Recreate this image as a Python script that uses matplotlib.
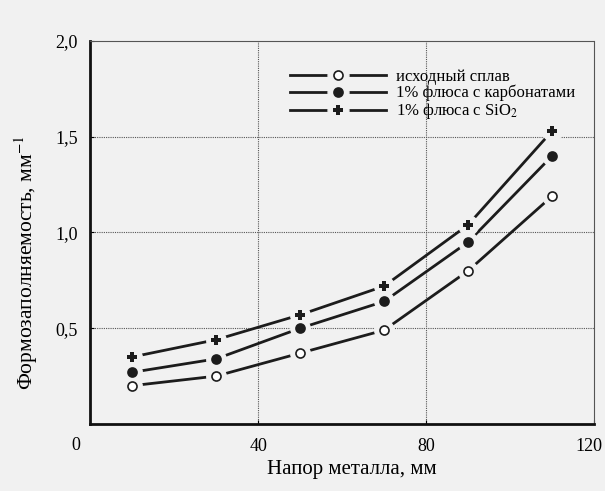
import matplotlib
matplotlib.use("Agg")
import matplotlib.pyplot as plt
import matplotlib.transforms as mtransforms
from matplotlib.lines import Line2D
from matplotlib.legend_handler import HandlerTuple

plt.rcParams['font.family'] = ['Liberation Serif', 'DejaVu Serif']
plt.rcParams['mathtext.fontset'] = 'stix'

x_vals = [10, 30, 50, 70, 90, 110]
base_alloy = [0.20, 0.25, 0.37, 0.49, 0.80, 1.19]
carbonates = [0.27, 0.34, 0.50, 0.64, 0.95, 1.40]
sio2 = [0.35, 0.44, 0.57, 0.72, 1.04, 1.53]
series_labels = ["исходный сплав", "1% флюса с карбонатами", "1% флюса с SiO$_2$"]
x_ticks = [40, 80, 120]
y_ticks = [0.5, 1.0, 1.5, 2.0]
y_tick_labels = ["0,5", "1,0", "1,5", "2,0"]

bg = '#f1f1f1'
fig = plt.figure(figsize=(6.05, 4.91), dpi=100, facecolor=bg)
ax = fig.add_axes([0.149, 0.1365, 0.833, 0.780], facecolor=bg)

ax.set_xlim(0, 120)
ax.set_ylim(0, 2.0)

for v in [40, 80]:
    ax.axvline(v, color='#555555', lw=0.8, ls=(0, (1, 1)), zorder=1)
for v in [0.5, 1.0, 1.5]:
    ax.axhline(v, color='#555555', lw=0.8, ls=(0, (1, 1)), zorder=1)

lc = '#1c1c1c'
styles = [
    dict(marker='o', mfc='white', mec=lc, ms=6.5, mew=1.2),
    dict(marker='o', mfc=lc, mec=lc, ms=6.5, mew=1.2),
    dict(marker='P', mfc=lc, mec=lc, ms=7.5, mew=0),
]
handles = []
for ys, st, lab in zip([base_alloy, carbonates, sio2], styles, series_labels):
    ax.plot(x_vals, ys, color=lc, lw=2.0, zorder=2, solid_capstyle='butt')
    ax.plot(x_vals, ys, ls='none', marker='o', ms=14, mfc=bg, mec=bg, zorder=3)
    ax.plot(x_vals, ys, ls='none', zorder=4, **st)
    h_line = Line2D([], [], color=lc, lw=2.0)
    h_halo = Line2D([], [], ls='none', marker='o', ms=15, mfc=bg, mec=bg)
    h_mark = Line2D([], [], ls='none', **st)
    handles.append((h_line, h_halo, h_mark))

leg = ax.legend(handles=handles, labels=series_labels,
                handler_map={tuple: HandlerTuple(ndivide=1, pad=0)},
                loc='upper left', bbox_to_anchor=(0.396, 0.927),
                frameon=False, fontsize=12, handlelength=5.8, handletextpad=0.6,
                labelspacing=0.0, borderpad=0, borderaxespad=0)

ax.set_xticks(x_ticks)
ax.set_xticklabels([str(t) for t in x_ticks], fontsize=13)
ax.set_yticks(y_ticks)
ax.set_yticklabels(y_tick_labels, fontsize=13)
ax.tick_params(axis='both', length=3, width=0.8, direction='in')
ax.tick_params(axis='y', pad=9)
ax.tick_params(axis='x', pad=10)
off = mtransforms.ScaledTranslation(-5 / 100, 0, fig.dpi_scale_trans)
lbl = ax.get_xticklabels()[-1]
lbl.set_transform(lbl.get_transform() + off)
ax.text(-0.02, -0.035, "0", transform=ax.transAxes, ha='right', va='top',
        fontsize=13)

for s in ['left', 'bottom']:
    ax.spines[s].set_linewidth(2.0)
    ax.spines[s].set_color('#111111')
for s in ['top', 'right']:
    ax.spines[s].set_linewidth(0.8)
    ax.spines[s].set_color('#555555')
    ax.spines[s].set_linestyle((0, (1, 1)))

ax.set_xlabel("Напор металла, мм", fontsize=15)
ax.xaxis.set_label_coords(0.52, -0.095)
ax.set_ylabel("Формозаполняемость, мм$^{-1}$", fontsize=15.5)
ax.yaxis.set_label_coords(-0.10, 0.42)

fig.savefig("out.png", dpi=100, facecolor=bg)
